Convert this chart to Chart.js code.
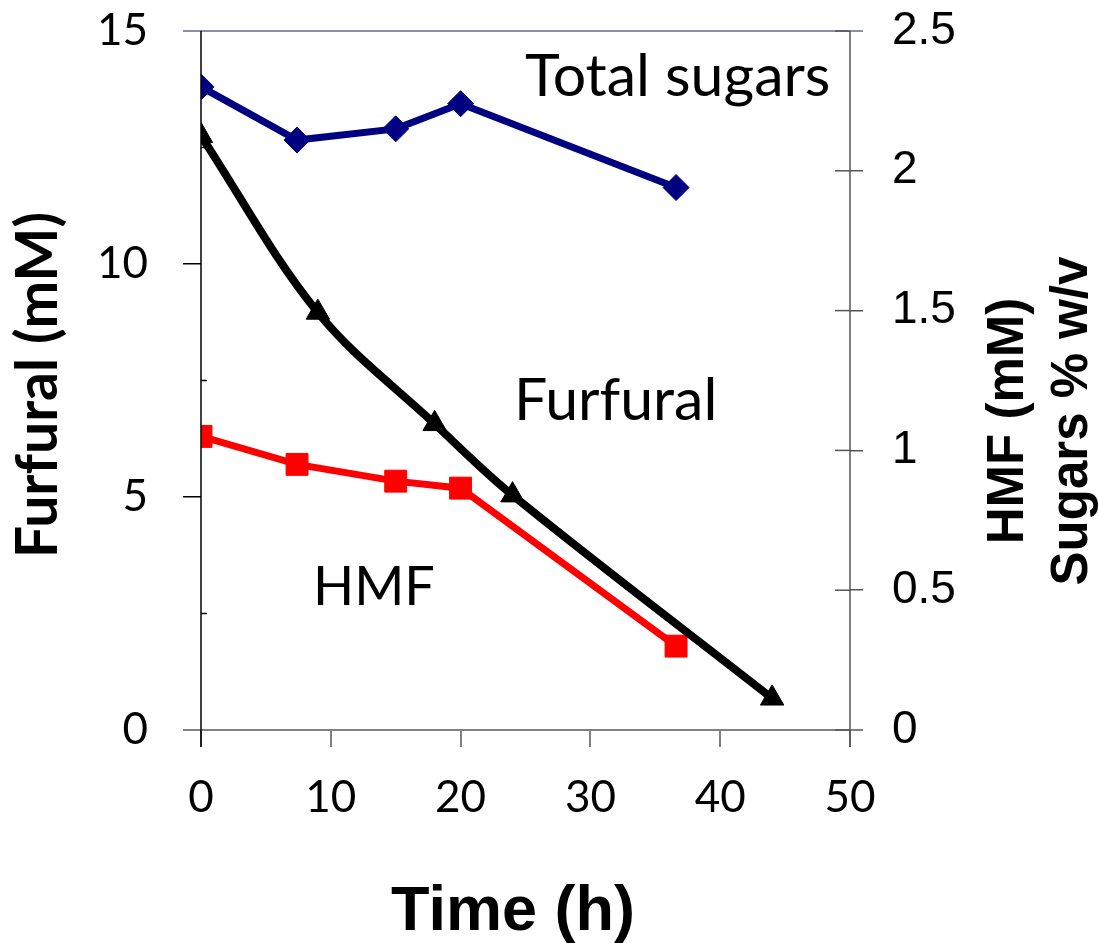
<!DOCTYPE html>
<html>
<head>
<meta charset="utf-8">
<script src="https://cdn.jsdelivr.net/npm/chart.js@4.4.1/dist/chart.umd.min.js"></script>
<style>
  html, body { margin: 0; padding: 0; background: #ffffff; }
  #wrap { width: 1099px; height: 943px; position: relative; }
</style>
</head>
<body>
<div id="wrap"><canvas id="chart" width="1099" height="943"></canvas></div>
<script>
// Furfural concentration (mM), left axis
const furfuralTime = [0, 9, 18, 24, 44];
const furfuralMM   = [12.75, 8.96, 6.57, 5.04, 0.68];

// Total sugars (% w/v), right axis
const sugarTime    = [0, 7.4, 15, 20, 36.6];
const totalSugars  = [2.30, 2.11, 2.15, 2.24, 1.94];

// HMF concentration (mM), right axis
const hmfTime      = [0, 7.4, 15, 20, 36.6];
const hmfMM        = [1.05, 0.95, 0.89, 0.865, 0.30];

// Axis ticks
const timeTicks          = [0, 10, 20, 30, 40, 50];
const furfuralTicks      = [0, 5, 10, 15];
const furfuralMinorTicks = [2.5, 7.5, 12.5];
const rightTicks         = [0, 0.5, 1, 1.5, 2, 2.5];

// Text
const xTitle      = 'Time (h)';
const leftTitle   = 'Furfural (mM)';
const rightTitles = ['HMF (mM)', 'Sugars % w/v'];
const seriesNotes = [
  { text: 'Total sugars', x: 525, y: 96,  size: 59 },
  { text: 'Furfural',     x: 514, y: 420, size: 59 },
  { text: 'HMF',          x: 313, y: 605, size: 54 }
];

const pts = (xs, ys) => xs.map((x, i) => ({ x: x, y: ys[i] }));

const SANS_CAL = 'Lato, "Open Sans", sans-serif';
const SANS_ARI = '"Liberation Sans", Arial, sans-serif';

// Fixed axis box sizes so the plot area sits where intended
const fixWidth = w => s => { s.width = w; s.paddingTop = 0; s.paddingBottom = 0; };
const fixHeight = h => s => { s.height = h; s.paddingLeft = 0; s.paddingRight = 0; };

// Frame lines, inner tick marks, axis titles and series notes
const decorations = {
  id: 'decorations',
  afterDraw(chart) {
    const ctx = chart.ctx;
    const a = chart.chartArea;
    const yL = chart.scales.y, yR = chart.scales.y1;
    ctx.save();

    // top frame line
    ctx.strokeStyle = '#8a8ea6';
    ctx.lineWidth = 2;
    ctx.beginPath(); ctx.moveTo(a.left - 18, a.top); ctx.lineTo(a.right + 13, a.top); ctx.stroke();

    // x axis line
    ctx.strokeStyle = '#808080';
    ctx.beginPath(); ctx.moveTo(a.left - 18, a.bottom); ctx.lineTo(a.right + 13, a.bottom); ctx.stroke();

    // left axis line
    ctx.strokeStyle = '#000000';
    ctx.lineWidth = 1.5;
    ctx.beginPath(); ctx.moveTo(a.left, a.top); ctx.lineTo(a.left, a.bottom + 17); ctx.stroke();

    // right axis line
    ctx.strokeStyle = '#555555';
    ctx.beginPath(); ctx.moveTo(a.right, a.top); ctx.lineTo(a.right, a.bottom + 17); ctx.stroke();

    // minor ticks on the left axis, pointing inward
    ctx.strokeStyle = '#000000';
    furfuralMinorTicks.forEach(v => {
      const py = yL.getPixelForValue(v);
      ctx.beginPath(); ctx.moveTo(a.left, py); ctx.lineTo(a.left + 6, py); ctx.stroke();
    });

    // inner half of the right axis ticks
    ctx.strokeStyle = '#555555';
    rightTicks.forEach(v => {
      const py = yR.getPixelForValue(v);
      ctx.beginPath(); ctx.moveTo(a.right - 15, py); ctx.lineTo(a.right, py); ctx.stroke();
    });

    ctx.fillStyle = '#000000';
    ctx.textBaseline = 'alphabetic';

    // x axis title
    ctx.font = 'bold 63px ' + SANS_ARI;
    ctx.textAlign = 'center';
    ctx.fillText(xTitle, 513, 930);

    // left axis title
    ctx.save();
    ctx.translate(57, 385);
    ctx.rotate(-Math.PI / 2);
    ctx.font = 'bold 57px ' + SANS_CAL;
    ctx.textAlign = 'center';
    ctx.fillText(leftTitle, 0, 0);
    ctx.restore();

    // right axis title, two lines
    ctx.save();
    ctx.translate(1023, 421);
    ctx.rotate(-Math.PI / 2);
    ctx.font = 'bold 51px ' + SANS_ARI;
    ctx.textAlign = 'center';
    ctx.fillText(rightTitles[0], 0, 0);
    ctx.fillText(rightTitles[1], 0, 64);
    ctx.restore();

    // series notes
    ctx.textAlign = 'left';
    seriesNotes.forEach(n => {
      ctx.font = n.size + 'px ' + SANS_CAL;
      ctx.fillText(n.text, n.x, n.y);
    });

    ctx.restore();
  }
};

new Chart(document.getElementById('chart'), {
  type: 'line',
  data: {
    datasets: [
      {
        label: 'Furfural',
        data: pts(furfuralTime, furfuralMM),
        yAxisID: 'y',
        borderColor: '#000000',
        backgroundColor: '#000000',
        borderWidth: 8,
        tension: 0.35,
        pointStyle: 'triangle',
        pointRadius: 13.5,
        pointBorderWidth: 1,
        pointBackgroundColor: '#000000',
        pointBorderColor: '#000000'
      },
      {
        label: 'HMF',
        data: pts(hmfTime, hmfMM),
        yAxisID: 'y1',
        borderColor: '#ff0000',
        backgroundColor: '#ff0000',
        borderWidth: 7,
        tension: 0,
        pointStyle: 'rect',
        pointRadius: 15.5,
        pointBorderWidth: 1,
        pointBackgroundColor: '#ff0000',
        pointBorderColor: '#ff0000'
      },
      {
        label: 'Total sugars',
        data: pts(sugarTime, totalSugars),
        yAxisID: 'y1',
        borderColor: '#000080',
        backgroundColor: '#000080',
        borderWidth: 7,
        tension: 0,
        pointStyle: 'rectRot',
        pointRadius: 13,
        pointBorderWidth: 1,
        pointBackgroundColor: '#000080',
        pointBorderColor: '#000080'
      }
    ]
  },
  options: {
    responsive: false,
    animation: false,
    layout: { padding: { top: 31, left: 0, right: 0, bottom: 0 } },
    plugins: {
      legend: { display: false },
      tooltip: { enabled: false },
      title: { display: false }
    },
    scales: {
      x: {
        type: 'linear',
        position: 'bottom',
        min: 0, max: 50,
        afterBuildTicks: s => { s.ticks = timeTicks.map(v => ({ value: v })); },
        afterFit: fixHeight(213),
        border: { display: false },
        grid: { drawOnChartArea: false, drawTicks: true, tickLength: 17, color: '#808080', lineWidth: 2 },
        ticks: {
          padding: 24,
          color: '#000000',
          font: { family: SANS_CAL, size: 44 },
          callback: v => String(v)
        }
      },
      y: {
        type: 'linear',
        position: 'left',
        min: 0, max: 15,
        afterBuildTicks: s => { s.ticks = furfuralTicks.map(v => ({ value: v })); },
        afterFit: fixWidth(201),
        border: { display: false },
        grid: { drawOnChartArea: false, drawTicks: true, tickLength: 18, color: '#000000', lineWidth: 1.5 },
        ticks: {
          padding: 35,
          color: '#000000',
          font: { family: SANS_CAL, size: 44 },
          callback: v => String(v)
        }
      },
      y1: {
        type: 'linear',
        position: 'right',
        min: 0, max: 2.5,
        afterBuildTicks: s => { s.ticks = rightTicks.map(v => ({ value: v })); },
        afterFit: fixWidth(249),
        border: { display: false },
        grid: { drawOnChartArea: false, drawTicks: true, tickLength: 13, color: '#555555', lineWidth: 1.5 },
        ticks: {
          padding: 29,
          color: '#000000',
          font: { family: SANS_ARI, size: 46 },
          callback: v => String(v)
        }
      }
    }
  },
  plugins: [decorations]
});
</script>
</body>
</html>
